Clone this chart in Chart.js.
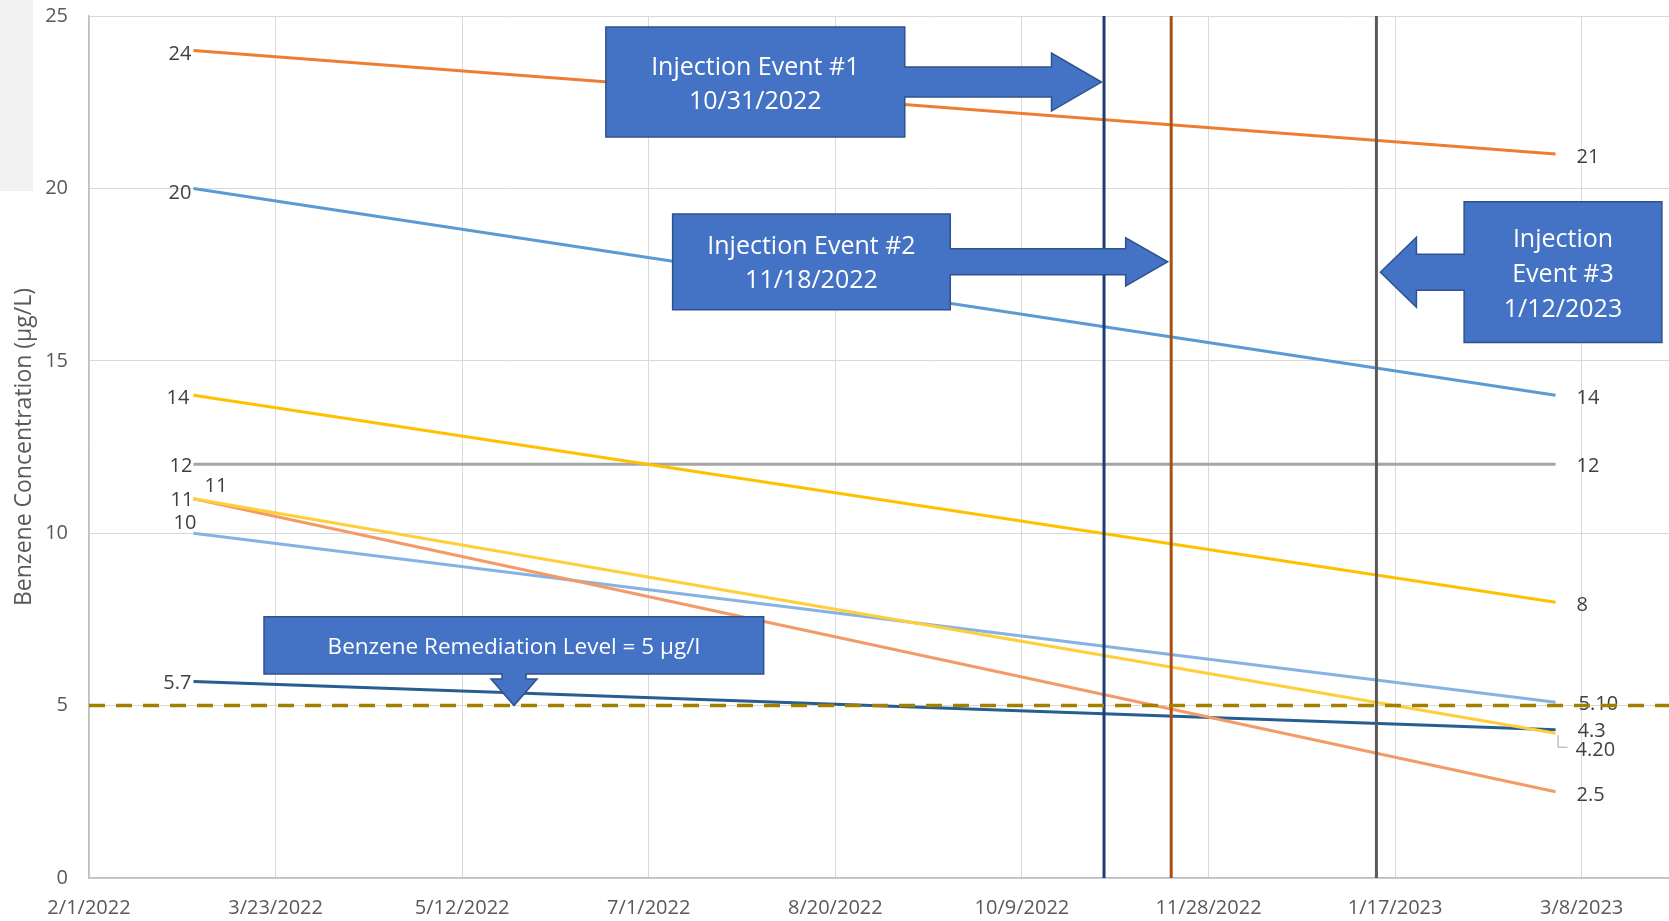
<!DOCTYPE html>
<html>
<head>
<meta charset="utf-8">
<title>Benzene Concentration</title>
<script src="https://cdn.jsdelivr.net/npm/chart.js@4/dist/chart.umd.min.js"></script>
<style>
  html, body { margin: 0; padding: 0; background: #ffffff; overflow: hidden; }
  #wrap { position: relative; width: 1669px; height: 921px; overflow: hidden; }
  #corner { position: absolute; left: 0; top: 0; width: 33px; height: 191px; background: #f2f2f2; }
  #c { position: absolute; left: 0; top: 0; }
</style>
</head>
<body>
<div id="wrap">
  <div id="corner"></div>
  <canvas id="c" width="1770" height="939"></canvas>
</div>
<script>
// ---- data ----
const xTickLabels = ['2/1/2022', '3/23/2022', '5/12/2022', '7/1/2022', '8/20/2022',
                     '10/9/2022', '11/28/2022', '1/17/2023', '3/8/2023'];
const axisEndDate = '4/27/2023';
const sampleDates = ['3/1/2022', '3/1/2023'];
const yTicks = [0, 5, 10, 15, 20, 25];

const seriesOrange    = [24, 21];
const seriesBlue      = [20, 14];
const seriesGold      = [14, 8];
const seriesGray      = [12, 12];
const seriesYellow    = [11, 4.2];
const seriesSalmon    = [11, 2.5];
const seriesLightBlue = [10, 5.1];
const seriesNavy      = [5.7, 4.3];

const remediationLevel = 5;
const injectionDates = ['10/31/2022', '11/18/2022', '1/12/2023'];
const injectionTitles = ['Injection Event #1', 'Injection Event #2', 'Injection Event #3'];
const remediationText = 'Benzene Remediation Level = ' + remediationLevel + ' µg/l';

// ---- date helpers (x axis is measured in days from the first tick) ----
const DAY_MS = 86400000;
function parseMDY(s) {
  const [m, d, y] = s.split('/').map(Number);
  return Date.UTC(y, m - 1, d);
}
const ORIGIN = parseMDY(xTickLabels[0]);
function dayOf(s) { return Math.round((parseMDY(s) - ORIGIN) / DAY_MS); }
function mdyOf(day) {
  const dt = new Date(ORIGIN + day * DAY_MS);
  return (dt.getUTCMonth() + 1) + '/' + dt.getUTCDate() + '/' + dt.getUTCFullYear();
}

// ---- layout targets on the page ----
const PLOT_TOP = 16;     // y of the top gridline
const PLOT_BOTTOM = 878; // y of the x axis line

// ---- styling of each series and its end labels ----
const FONT = '"Open Sans", "Noto Sans", sans-serif';
const seriesStyle = [
  { values: seriesOrange,    color: '#ED7D31', start: { dx: -2, dy: 4,   align: 'right' }, end: { dx: 21, dy: 3 } },
  { values: seriesBlue,      color: '#5B9BD5', start: { dx: -2, dy: 5,   align: 'right' }, end: { dx: 21, dy: 3 } },
  { values: seriesGold,      color: '#FFC000', start: { dx: -4, dy: 3,   align: 'right' }, end: { dx: 21, dy: 3.5 } },
  { values: seriesGray,      color: '#A5A5A5', start: { dx: -1, dy: 2,   align: 'right' }, end: { dx: 21, dy: 2.5 } },
  { values: seriesYellow,    color: '#FFCF3A', start: { dx: 0,  dy: 2,   align: 'right' }, end: { dx: 20, dy: 17.5, decimals: 2, leader: 14 } },
  { values: seriesSalmon,    color: '#F39B68', start: { dx: 11, dy: -12, align: 'left' },  end: { dx: 21, dy: 3.5 } },
  { values: seriesLightBlue, color: '#86B3E3', start: { dx: 3,  dy: -10, align: 'right' }, end: { dx: 23, dy: 2.5, decimals: 2 } },
  { values: seriesNavy,      color: '#255E91', start: { dx: -2, dy: 2,   align: 'right' }, end: { dx: 22, dy: 2 } }
];
const eventColors = ['#1F3C73', '#A84F14', '#5A5A5A'];

// callout geometry: boxes in axis units (days / µg/L), arrow sizes in px
const callouts = [
  { event: 0, lines: 2, box: [138.5, 218.6, 24.68, 21.49], dir: 'right', gap: 2.5, head: 50, headHalf: 29, shaftHalf: 15 },
  { event: 1, lines: 2, box: [156.4, 230.8, 19.26, 16.48], dir: 'right', gap: 3.5, head: 42, headHalf: 24, shaftHalf: 13 },
  { event: 2, lines: 3, box: [368.5, 421.5, 19.61, 15.53], dir: 'left',  gap: 4,   head: 36, headHalf: 35, shaftHalf: 18 }
];
const remediationCallout = { box: [46.9, 180.8, 7.58, 5.92], atDay: 113.9, head: 26.5, headHalf: 23, shaftHalf: 12 };

// ---- datasets ----
const sampleDays = sampleDates.map(dayOf);
const datasets = [];
seriesStyle.forEach((s, i) => {
  datasets.push({
    data: s.values.map((v, k) => ({ x: sampleDays[k], y: v })),
    borderColor: s.color,
    borderWidth: 3,
    pointRadius: 0,
    order: 10 + i
  });
});
injectionDates.forEach((d, i) => {
  datasets.push({
    data: [{ x: dayOf(d), y: yTicks[0] }, { x: dayOf(d), y: yTicks[yTicks.length - 1] }],
    borderColor: eventColors[i],
    borderWidth: 3,
    pointRadius: 0,
    order: 1
  });
});
datasets.push({
  data: [{ x: 0, y: remediationLevel }, { x: dayOf(axisEndDate), y: remediationLevel }],
  borderColor: '#A38000',
  borderWidth: 3.5,
  borderDash: [16, 11],
  pointRadius: 0,
  order: 0
});

// value labels at both ends of every series, drawn beneath the lines
const valueLabels = {
  id: 'valueLabels',
  beforeDatasetsDraw(chart) {
    const ctx = chart.ctx;
    ctx.save();
    ctx.font = '20px ' + FONT;
    ctx.fillStyle = '#404040';
    ctx.textBaseline = 'middle';
    seriesStyle.forEach((s, i) => {
      const pts = chart.getDatasetMeta(i).data;
      [s.start, s.end].forEach((lab, k) => {
        const p = pts[k];
        const v = s.values[k];
        const txt = lab.decimals != null ? v.toFixed(lab.decimals) : String(v);
        ctx.textAlign = lab.align || 'left';
        ctx.fillText(txt, p.x + lab.dx, p.y + lab.dy);
        if (lab.leader) {
          ctx.save();
          ctx.strokeStyle = '#A6A6A6';
          ctx.lineWidth = 1;
          ctx.beginPath();
          ctx.moveTo(p.x + 2.5, p.y + 2);
          ctx.lineTo(p.x + 2.5, p.y + lab.leader);
          ctx.lineTo(p.x + 12, p.y + lab.leader);
          ctx.stroke();
          ctx.restore();
        }
      });
    });
    ctx.restore();
  }
};

// blue arrow callouts for the injection events and the remediation level
const calloutShapes = {
  id: 'calloutShapes',
  afterDraw(chart) {
    const ctx = chart.ctx;
    const xs = chart.scales.x, ys = chart.scales.y;
    ctx.save();
    ctx.fillStyle = '#4472C4';
    ctx.strokeStyle = '#2F528F';
    ctx.lineWidth = 1.5;
    ctx.lineJoin = 'miter';

    callouts.forEach(c => {
      const L = xs.getPixelForValue(c.box[0]), R = xs.getPixelForValue(c.box[1]);
      const T = ys.getPixelForValue(c.box[2]), B = ys.getPixelForValue(c.box[3]);
      const cy = (T + B) / 2;
      const ex = xs.getPixelForValue(dayOf(injectionDates[c.event]));
      ctx.beginPath();
      if (c.dir === 'right') {
        const tip = ex - c.gap, base = tip - c.head;
        ctx.moveTo(L, T); ctx.lineTo(R, T); ctx.lineTo(R, cy - c.shaftHalf);
        ctx.lineTo(base, cy - c.shaftHalf); ctx.lineTo(base, cy - c.headHalf);
        ctx.lineTo(tip, cy); ctx.lineTo(base, cy + c.headHalf);
        ctx.lineTo(base, cy + c.shaftHalf); ctx.lineTo(R, cy + c.shaftHalf);
        ctx.lineTo(R, B); ctx.lineTo(L, B);
      } else {
        const tip = ex + c.gap, base = tip + c.head;
        ctx.moveTo(L, T); ctx.lineTo(R, T); ctx.lineTo(R, B); ctx.lineTo(L, B);
        ctx.lineTo(L, cy + c.shaftHalf); ctx.lineTo(base, cy + c.shaftHalf);
        ctx.lineTo(base, cy + c.headHalf); ctx.lineTo(tip, cy);
        ctx.lineTo(base, cy - c.headHalf); ctx.lineTo(base, cy - c.shaftHalf);
        ctx.lineTo(L, cy - c.shaftHalf);
      }
      ctx.closePath();
      ctx.fill();
      ctx.stroke();

      // text
      const title = injectionTitles[c.event];
      const dateTxt = injectionDates[c.event];
      let rows;
      if (c.lines === 3) {
        const sp = title.indexOf(' ');
        rows = [title.slice(0, sp), title.slice(sp + 1), dateTxt];
      } else {
        rows = [title, dateTxt];
      }
      ctx.save();
      ctx.fillStyle = '#FFFFFF';
      ctx.font = '25px ' + FONT;
      ctx.textAlign = 'center';
      ctx.textBaseline = 'middle';
      const lh = c.lines === 3 ? 35 : 34;
      const cx = (L + R) / 2;
      rows.forEach((r, k) => {
        ctx.fillText(r, cx, cy + 2.5 + (k - (rows.length - 1) / 2) * lh);
      });
      ctx.restore();
    });

    // remediation level callout (down arrow onto the dashed line)
    const rc = remediationCallout;
    const L = xs.getPixelForValue(rc.box[0]), R = xs.getPixelForValue(rc.box[1]);
    const T = ys.getPixelForValue(rc.box[2]), B = ys.getPixelForValue(rc.box[3]);
    const ax = xs.getPixelForValue(rc.atDay);
    const tipY = ys.getPixelForValue(remediationLevel);
    const baseY = tipY - rc.head;
    ctx.beginPath();
    ctx.moveTo(L, T); ctx.lineTo(R, T); ctx.lineTo(R, B);
    ctx.lineTo(ax + rc.shaftHalf, B); ctx.lineTo(ax + rc.shaftHalf, baseY);
    ctx.lineTo(ax + rc.headHalf, baseY); ctx.lineTo(ax, tipY);
    ctx.lineTo(ax - rc.headHalf, baseY); ctx.lineTo(ax - rc.shaftHalf, baseY);
    ctx.lineTo(ax - rc.shaftHalf, B); ctx.lineTo(L, B);
    ctx.closePath();
    ctx.fill();
    ctx.stroke();
    ctx.fillStyle = '#FFFFFF';
    ctx.font = '22.5px ' + FONT;
    ctx.textAlign = 'center';
    ctx.textBaseline = 'middle';
    ctx.fillText(remediationText, (L + R) / 2, (T + B) / 2 + 2);
    ctx.restore();
  }
};

const canvas = document.getElementById('c');
let xAxisHeight = 39;

const chart = new Chart(canvas, {
  type: 'line',
  data: { datasets },
  options: {
    responsive: false,
    animation: false,
    events: [],
    layout: { padding: { top: 0, right: 0, bottom: 0, left: 0 } },
    plugins: { legend: { display: false }, tooltip: { enabled: false } },
    scales: {
      x: {
        type: 'linear',
        min: 0,
        max: dayOf(axisEndDate),
        afterBuildTicks(scale) { scale.ticks = xTickLabels.map(l => ({ value: dayOf(l) })); },
        afterFit(scale) { scale.height = xAxisHeight; },
        ticks: {
          callback: v => mdyOf(v),
          font: { family: FONT, size: 20 },
          color: '#595959',
          padding: 18,
          maxRotation: 0,
          autoSkip: false
        },
        grid: { color: '#D9D9D9', lineWidth: 1, drawTicks: false },
        border: { color: '#BFBFBF', width: 1.5 }
      },
      y: {
        min: yTicks[0],
        max: yTicks[yTicks.length - 1],
        afterBuildTicks(scale) { scale.ticks = yTicks.map(v => ({ value: v })); },
        afterFit(scale) { scale.width = 89; },
        ticks: {
          font: { family: FONT, size: 20 },
          color: '#595959',
          padding: 21
        },
        title: {
          display: true,
          text: 'Benzene Concentration (µg/L)',
          font: { family: FONT, size: 23 },
          color: '#595959',
          padding: { top: 11, bottom: 0 }
        },
        grid: { color: '#D9D9D9', lineWidth: 1, drawTicks: false },
        border: { color: '#BFBFBF', width: 1.5 }
      }
    }
  },
  plugins: [valueLabels, calloutShapes]
});

// the y axis reserves room above its top label; shift the canvas so the
// plot area sits at the intended place on the page
const shift = Math.round(chart.chartArea.top - PLOT_TOP);
canvas.style.top = (-shift) + 'px';
xAxisHeight = canvas.height - (PLOT_BOTTOM + shift);
chart.update();
</script>
</body>
</html>
